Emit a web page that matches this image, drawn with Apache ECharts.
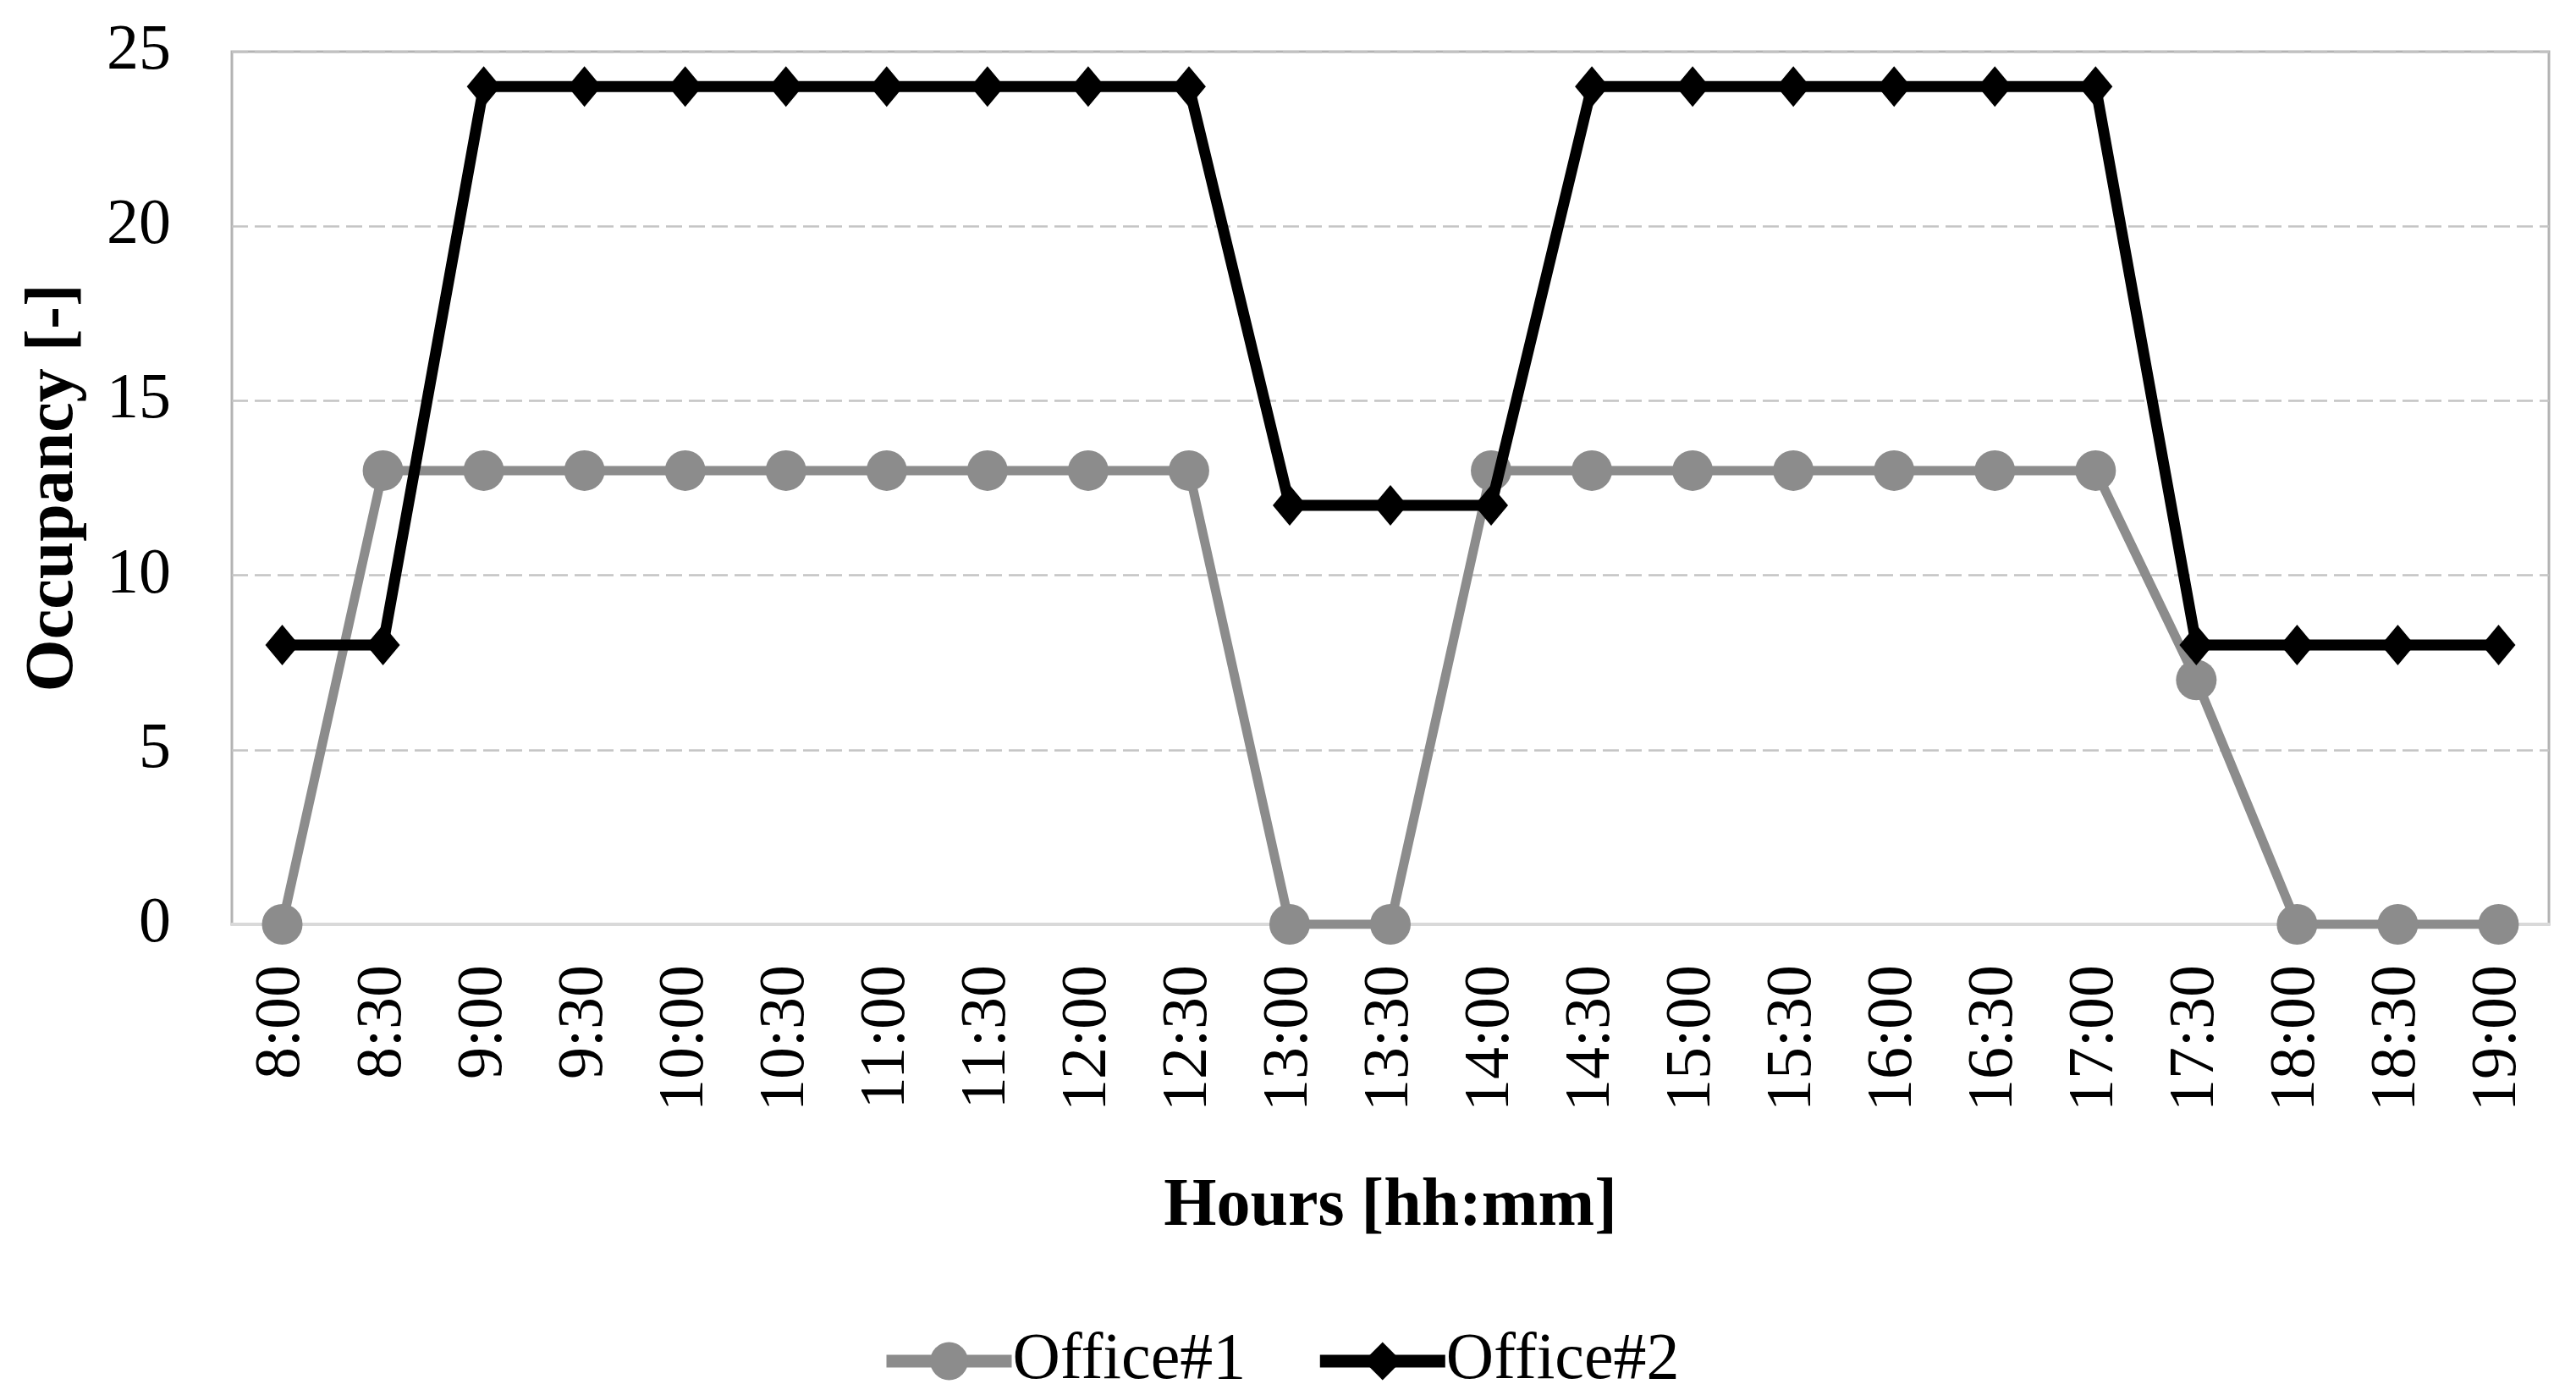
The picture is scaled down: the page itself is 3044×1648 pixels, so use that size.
<!DOCTYPE html>
<html>
<head>
<meta charset="utf-8">
<script src="https://cdn.jsdelivr.net/npm/echarts@6/dist/echarts.min.js"></script>
<style>
  html, body { margin: 0; padding: 0; background: #fff; }
  #chart { width: 3044px; height: 1648px; }
</style>
</head>
<body>
<div id="chart"></div>
<script>
// categories (half-hour steps)
const hours = ["8:00", "8:30", "9:00", "9:30", "10:00", "10:30", "11:00", "11:30",
  "12:00", "12:30", "13:00", "13:30", "14:00", "14:30", "15:00", "15:30",
  "16:00", "16:30", "17:00", "17:30", "18:00", "18:30", "19:00"];
// occupancy values
const office1 = [0, 13, 13, 13, 13, 13, 13, 13, 13, 13, 0, 0, 13, 13, 13, 13, 13, 13, 13, 7, 0, 0, 0];
const office2 = [8, 8, 24, 24, 24, 24, 24, 24, 24, 24, 12, 12, 12, 24, 24, 24, 24, 24, 24, 8, 8, 8, 8];

const font = "'Liberation Serif', 'Times New Roman', serif";
const grey = "#8c8c8c";

let chart = echarts.init(document.getElementById("chart"));
let option = {
  backgroundColor: "#fff",
  textStyle: { fontFamily: font, color: "#000" },
  grid: {
    left: 274,
    right: 32,
    top: 61,
    bottom: 556,
    show: true,
    borderColor: "#b3b3b3",
    borderWidth: 3
  },
  legend: {
    left: 1035,
    top: 1592 - 28,
    itemWidth: 148,
    itemHeight: 56,
    itemGap: 80,
    textStyle: { fontFamily: font, fontSize: 78, color: "#000", padding: [0, 0, 0, -4] },
    data: [
      { name: "Office#1", itemStyle: { color: grey }, lineStyle: { color: grey, width: 15 } },
      { name: "Office#2", itemStyle: { color: "#000" }, lineStyle: { color: "#000", width: 15 } }
    ]
  },
  xAxis: {
    type: "category",
    data: hours,
    boundaryGap: true,
    name: "Hours [hh:mm]",
    nameLocation: "middle",
    nameGap: 294,
    nameTextStyle: { fontFamily: font, fontSize: 80, fontWeight: "bold", color: "#000" },
    axisLine: { lineStyle: { color: "#d9d9d9", width: 4 } },
    axisTick: { show: false },
    axisLabel: { rotate: 90, fontSize: 76, color: "#000", margin: 48, fontFamily: font, interval: 0 }
  },
  yAxis: {
    type: "value",
    min: 0,
    max: 25,
    interval: 5,
    name: "Occupancy [-]",
    nameLocation: "middle",
    nameGap: 170,
    nameTextStyle: { fontFamily: font, fontSize: 80, fontWeight: "bold", color: "#000" },
    axisLine: { show: false },
    axisTick: { show: false },
    axisLabel: { fontSize: 76, color: "#000", margin: 72, fontFamily: font },
    splitLine: { lineStyle: { color: "#c4c4c4", width: 2.5, type: [19, 8] } }
  },
  series: [
    {
      name: "Office#1",
      type: "line",
      data: office1,
      symbol: "circle",
      symbolSize: 48,
      itemStyle: { color: grey },
      lineStyle: { color: grey, width: 11 },
      z: 2
    },
    {
      name: "Office#2",
      type: "line",
      data: office2,
      symbol: "diamond",
      symbolSize: [40, 48],
      itemStyle: { color: "#000" },
      lineStyle: { color: "#000", width: 13 },
      z: 3
    }
  ]
};
chart.setOption(option);
</script>
</body>
</html>
